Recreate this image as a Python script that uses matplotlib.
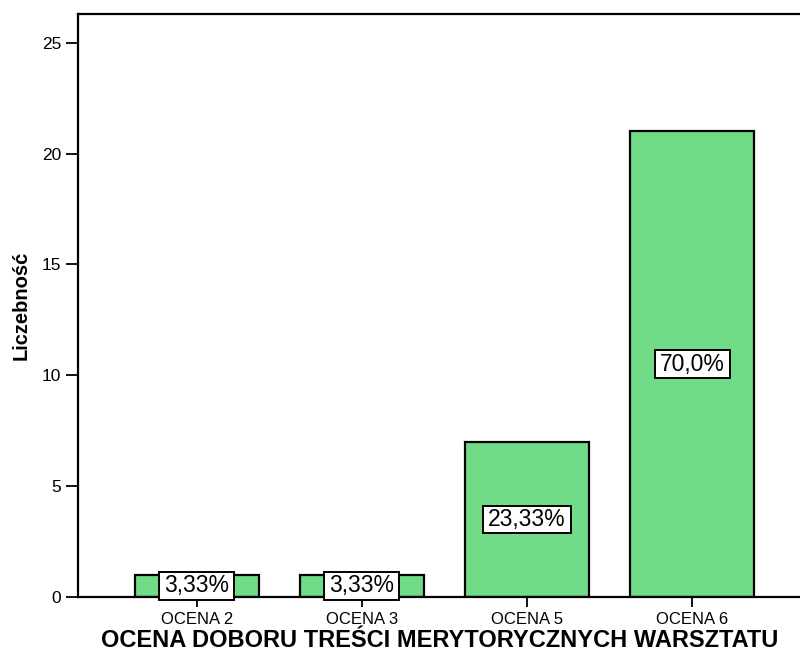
import matplotlib
matplotlib.use("Agg")
import matplotlib.pyplot as plt
from matplotlib.path import Path

categories = ["OCENA 2", "OCENA 3", "OCENA 5", "OCENA 6"]
counts = [1, 1, 7, 21]
percent_labels = ["3,33%", "3,33%", "23,33%", "70,0%"]
yticks = [0, 5, 10, 15, 20, 25]

plt.rcParams['font.family'] = ['Liberation Sans', 'DejaVu Sans']


def wide_box(x0, y0, width, height, mutation_size):
    px = 0.22 * mutation_size
    py = 0.10 * mutation_size
    x0 -= px
    y0 -= py
    x1 = x0 + width + 2 * px
    y1 = y0 + height + 2 * py
    return Path([(x0, y0), (x1, y0), (x1, y1), (x0, y1), (x0, y0)], closed=True)


fig = plt.figure(figsize=(8, 6.53), dpi=100)
ax = fig.add_axes([78/800, 56/653, 733/800, 583/653])

x = list(range(len(categories)))
ax.bar(x, counts, width=0.75, color="#70DC88", edgecolor="black", linewidth=1.6, zorder=2)

for xi, c, lab in zip(x, counts, percent_labels):
    ax.text(xi, c / 2, lab, ha="center", va="center", fontsize=16.5, zorder=3,
            bbox=dict(boxstyle=wide_box, facecolor="white", edgecolor="black", linewidth=1.4))

ax.set_xlim(-0.72, 3.72)
ax.set_ylim(0, 26.3)
ax.set_yticks(yticks)
ax.set_xticks(x)
ax.set_xticklabels(categories, fontsize=12)
ax.tick_params(axis="y", labelsize=12.5, length=9, width=1.3, pad=3, direction="out")
ax.tick_params(axis="x", length=7, width=1.3, pad=4, direction="out")

for s in ax.spines.values():
    s.set_linewidth(1.6)

fig.text(440/800, 6/653, "OCENA DOBORU TREŚCI MERYTORYCZNYCH WARSZTATU",
         ha="center", va="baseline", fontsize=17, fontweight="bold")
ax.set_ylabel("Liczebność", fontsize=14.5, fontweight="bold", labelpad=8)

fig.savefig("out.png", dpi=100)
